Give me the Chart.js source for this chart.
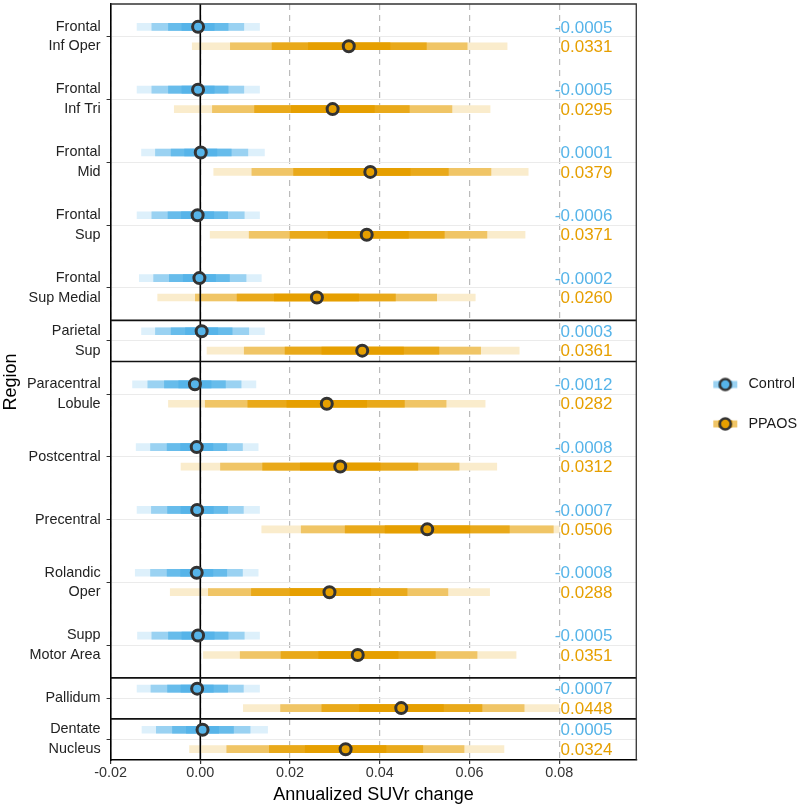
<!DOCTYPE html>
<html>
<head>
<meta charset="utf-8">
<script src="https://cdn.jsdelivr.net/npm/chart.js@4.4.1/dist/chart.umd.min.js"></script>
<style>
  html, body { margin: 0; padding: 0; background: #fff; }
</style>
</head>
<body>
<canvas id="chart" width="800" height="806"></canvas>
<script>
// Regions, top to bottom, grouped into panels
const regionLabels = [
  ['Frontal', 'Inf Oper'], ['Frontal', 'Inf Tri'], ['Frontal', 'Mid'], ['Frontal', 'Sup'], ['Frontal', 'Sup Medial'],
  ['Parietal', 'Sup'],
  ['Paracentral', 'Lobule'], 'Postcentral', 'Precentral', ['Rolandic', 'Oper'], ['Supp', 'Motor Area'],
  'Pallidum',
  ['Dentate', 'Nucleus']
];
const panelSizes = [5, 1, 5, 1, 1];
const xTicks = [-0.02, 0, 0.02, 0.04, 0.06, 0.08];

// Medians (printed on the right)
const controlMedian = [-0.0005, -0.0005, 0.0001, -0.0006, -0.0002, 0.0003, -0.0012, -0.0008, -0.0007, -0.0008, -0.0005, -0.0007, 0.0005];
const ppaosMedian = [0.0331, 0.0295, 0.0379, 0.0371, 0.0260, 0.0361, 0.0282, 0.0312, 0.0506, 0.0288, 0.0351, 0.0448, 0.0324];

// Credible intervals [lo, hi]
const control99 = [[-0.0141, 0.0132], [-0.0141, 0.0132], [-0.0131, 0.0143], [-0.0141, 0.0132], [-0.0136, 0.0136], [-0.0131, 0.0143], [-0.0151, 0.0124], [-0.0143, 0.0129], [-0.0141, 0.0132], [-0.0145, 0.0129], [-0.0140, 0.0132], [-0.0141, 0.0132], [-0.0130, 0.0150]];
const control95 = [[-0.0108, 0.0097], [-0.0108, 0.0097], [-0.0100, 0.0106], [-0.0108, 0.0098], [-0.0104, 0.0102], [-0.0100, 0.0108], [-0.0117, 0.0091], [-0.0111, 0.0094], [-0.0109, 0.0096], [-0.0111, 0.0094], [-0.0108, 0.0098], [-0.0110, 0.0096], [-0.0098, 0.0111]];
const control80 = [[-0.0071, 0.0062], [-0.0071, 0.0062], [-0.0065, 0.0069], [-0.0072, 0.0061], [-0.0069, 0.0065], [-0.0065, 0.0071], [-0.0080, 0.0056], [-0.0074, 0.0059], [-0.0073, 0.0061], [-0.0074, 0.0059], [-0.0071, 0.0062], [-0.0073, 0.0061], [-0.0062, 0.0074]];
const control50 = [[-0.0041, 0.0031], [-0.0041, 0.0031], [-0.0035, 0.0037], [-0.0042, 0.0030], [-0.0038, 0.0034], [-0.0033, 0.0039], [-0.0048, 0.0024], [-0.0044, 0.0028], [-0.0043, 0.0029], [-0.0044, 0.0028], [-0.0041, 0.0031], [-0.0043, 0.0029], [-0.0031, 0.0041]];

const ppaos99 = [[-0.0018, 0.0684], [-0.0058, 0.0646], [0.0030, 0.0731], [0.0022, 0.0724], [-0.0095, 0.0613], [0.0015, 0.0711], [-0.0071, 0.0635], [-0.0043, 0.0661], [0.0137, 0.0800], [-0.0067, 0.0645], [0.0007, 0.0704], [0.0096, 0.0800], [-0.0024, 0.0677]];
const ppaos95 = [[0.0067, 0.0595], [0.0027, 0.0561], [0.0115, 0.0648], [0.0109, 0.0639], [-0.0011, 0.0527], [0.0098, 0.0625], [0.0011, 0.0548], [0.0045, 0.0577], [0.0225, 0.0787], [0.0018, 0.0552], [0.0089, 0.0617], [0.0179, 0.0722], [0.0059, 0.0588]];
const ppaos80 = [[0.0160, 0.0504], [0.0121, 0.0466], [0.0208, 0.0553], [0.0200, 0.0544], [0.0082, 0.0435], [0.0189, 0.0532], [0.0106, 0.0455], [0.0139, 0.0485], [0.0323, 0.0689], [0.0114, 0.0461], [0.0180, 0.0524], [0.0271, 0.0628], [0.0154, 0.0496]];
const ppaos50 = [[0.0241, 0.0423], [0.0203, 0.0388], [0.0290, 0.0468], [0.0285, 0.0464], [0.0165, 0.0353], [0.0271, 0.0453], [0.0193, 0.0371], [0.0223, 0.0401], [0.0412, 0.0601], [0.0200, 0.0380], [0.0264, 0.0441], [0.0355, 0.0542], [0.0234, 0.0414]];

// colours (interval shades pre-blended on white)
const BLUE = ['#56B4E9', '#67BCEB', '#9AD2F2', '#DDF0FB'];
const ORANGE = ['#E69F00', '#E9A91A', '#F0C566', '#FAECCC'];

// layout of rows along the y axis
const STEP = 62.7, PAD_MULTI = 32.5, PAD_SINGLE = 20.5, DODGE = 9.7;
const LABEL_X = 0.0919;
const regionPos = [];
const panelEdges = [];
let cursor = 0;
panelSizes.forEach(n => {
  const pad = n > 1 ? PAD_MULTI : PAD_SINGLE;
  cursor += pad;
  for (let i = 0; i < n; i++) {
    regionPos.push(cursor);
    if (i < n - 1) cursor += STEP;
  }
  cursor += pad;
  panelEdges.push(cursor);
});
const Y_MAX = cursor;

function band(label, pairs, offset, color, order) {
  return {
    type: 'bar', label,
    data: pairs.map((p, i) => ({ x: p, y: regionPos[i] + offset })),
    backgroundColor: color, barThickness: 7, grouped: false,
    borderWidth: 0, borderSkipped: false, order
  };
}

function medians(label, values, offset, color) {
  return {
    type: 'scatter', label,
    data: values.map((v, i) => ({ x: v, y: regionPos[i] + offset })),
    backgroundColor: color, borderColor: '#333333', borderWidth: 3,
    pointRadius: 5.5, order: 0
  };
}

// legend keys: bar with a point, shifted inside a wide box
const ICON_SHIFT = 24;
function legendIcon(c) {
  const cv = document.createElement('canvas');
  cv.width = 80; cv.height = 16;
  const g = cv.getContext('2d');
  const cx = 40 + ICON_SHIFT, cy = 8;
  g.fillStyle = c[2]; g.fillRect(cx - 12, cy - 3.5, 24, 7);
  g.fillStyle = c[0]; g.fillRect(cx - 7, cy - 3.5, 14, 7);
  g.beginPath(); g.arc(cx, cy, 5.5, 0, Math.PI * 2);
  g.fillStyle = c[0]; g.fill();
  g.lineWidth = 2.6; g.strokeStyle = '#333333'; g.stroke();
  return cv;
}
const icons = { Control: legendIcon(BLUE), PPAOS: legendIcon(ORANGE) };

const valueLabels = {
  id: 'valueLabels',
  afterDatasetsDraw(chart) {
    const { ctx, scales: { x, y } } = chart;
    ctx.save();
    ctx.font = '17px "Liberation Sans", Arial, sans-serif';
    ctx.textAlign = 'right';
    ctx.textBaseline = 'middle';
    const px = x.getPixelForValue(LABEL_X);
    regionPos.forEach((pos, i) => {
      ctx.fillStyle = BLUE[0];
      ctx.fillText(controlMedian[i].toFixed(4), px, y.getPixelForValue(pos - DODGE) + 1);
      ctx.fillStyle = ORANGE[0];
      ctx.fillText(ppaosMedian[i].toFixed(4), px, y.getPixelForValue(pos + DODGE) + 1);
    });
    ctx.restore();
  }
};

const panelFrame = {
  id: 'panelFrame',
  afterDatasetsDraw(chart) {
    const { ctx, chartArea: a, scales: { y } } = chart;
    ctx.save();
    ctx.strokeStyle = '#111111';
    ctx.lineWidth = 1.6;
    ctx.beginPath();
    panelEdges.slice(0, -1).forEach(v => {
      const py = y.getPixelForValue(v);
      ctx.moveTo(a.left, py);
      ctx.lineTo(a.right, py);
    });
    ctx.stroke();
    ctx.strokeStyle = '#333333';
    ctx.lineWidth = 1.3;
    ctx.beginPath();
    ctx.moveTo(a.left, a.top);
    ctx.lineTo(a.right, a.top);
    ctx.lineTo(a.right, a.bottom);
    ctx.stroke();
    ctx.restore();
  }
};

Chart.defaults.font.family = '"Liberation Sans", Arial, sans-serif';

new Chart(document.getElementById('chart'), {
  type: 'bar',
  data: {
    datasets: [
      medians('Control', controlMedian, -DODGE, BLUE[0]),
      medians('PPAOS', ppaosMedian, DODGE, ORANGE[0]),
      {
        type: 'line', label: 'zero',
        data: [{ x: 0, y: 0 }, { x: 0, y: Y_MAX }],
        borderColor: '#000000', borderWidth: 1.6, pointRadius: 0, order: 1
      },
      band('Control 50%', control50, -DODGE, BLUE[0], 2),
      band('Control 80%', control80, -DODGE, BLUE[1], 3),
      band('Control 95%', control95, -DODGE, BLUE[2], 4),
      band('Control 99%', control99, -DODGE, BLUE[3], 5),
      band('PPAOS 50%', ppaos50, DODGE, ORANGE[0], 2),
      band('PPAOS 80%', ppaos80, DODGE, ORANGE[1], 3),
      band('PPAOS 95%', ppaos95, DODGE, ORANGE[2], 4),
      band('PPAOS 99%', ppaos99, DODGE, ORANGE[3], 5)
    ]
  },
  options: {
    indexAxis: 'y',
    responsive: false,
    animation: false,
    events: [],
    layout: { autoPadding: false, padding: { top: 4, right: -7, bottom: 1.6, left: 1 } },
    plugins: {
      tooltip: { enabled: false },
      legend: {
        position: 'right',
        labels: {
          usePointStyle: true,
          pointStyleWidth: 80,
          padding: 25,
          color: '#1a1a1a',
          font: { size: 14.4 },
          generateLabels(chart) {
            const items = Chart.defaults.plugins.legend.labels.generateLabels(chart);
            return items
              .filter(it => icons[it.text])
              .map(it => Object.assign(it, { pointStyle: icons[it.text] }));
          }
        }
      }
    },
    scales: {
      x: {
        type: 'linear',
        min: -0.02,
        max: 0.0972,
        afterBuildTicks(scale) { scale.ticks = xTicks.map(v => ({ value: v })); },
        ticks: {
          autoSkip: false, maxRotation: 0, padding: 2, color: '#333333',
          font: { size: 14.4, lineHeight: 1 },
          callback: v => v.toFixed(2)
        },
        grid: { color: '#BBBBBB', lineWidth: 1.2, tickColor: '#333333', tickLength: 4 },
        border: { display: true, color: '#000000', width: 1.6, dash: [6, 5] },
        title: {
          display: true, text: 'Annualized SUVr change', color: '#000000',
          font: { size: 18, lineHeight: 1 }, padding: { top: 4, bottom: 0 }
        }
      },
      y: {
        type: 'linear',
        reverse: true,
        offset: false,
        min: 0,
        max: Y_MAX,
        afterBuildTicks(scale) { scale.ticks = regionPos.map(v => ({ value: v })); },
        afterFit(scale) { scale.paddingTop = 0; scale.paddingBottom = 0; },
        ticks: {
          autoSkip: false, padding: 6, color: '#222222',
          font: { size: 14.4, lineHeight: 1.38 },
          callback: (v, i) => regionLabels[i]
        },
        grid: { offset: false, color: '#EBEBEB', lineWidth: 1, tickColor: '#333333', tickLength: 4 },
        border: { display: true, color: '#000000', width: 1.6, dash: [] },
        title: {
          display: true, text: 'Region', color: '#000000',
          font: { size: 18, lineHeight: 1 }, padding: { top: 1, bottom: 1 }
        }
      }
    }
  },
  plugins: [panelFrame, valueLabels]
});
</script>
</body>
</html>
